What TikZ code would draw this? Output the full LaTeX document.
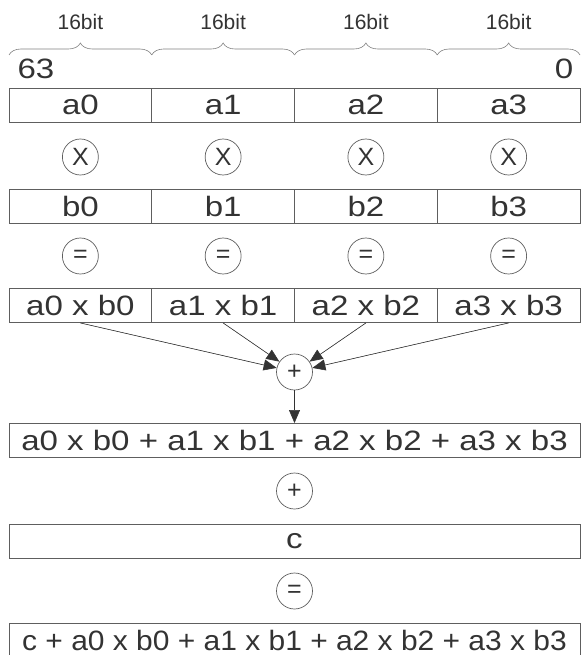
\documentclass[tikz,border=0pt]{standalone}
\usepackage{fontspec}
\setmainfont{Liberation Sans}
\usetikzlibrary{calc, positioning, arrows.meta, decorations.pathreplacing}
\definecolor{linegray}{HTML}{5E5E5E}
\definecolor{textgray}{HTML}{333333}
\newcommand{\wtxt}[1]{\scalebox{1.18}[1]{#1}}
\newcommand{\ntxt}[1]{\scalebox{1.07}[1]{#1}}

\begin{document}
\begin{tikzpicture}[x=1pt, y=-1pt, >={Triangle[length=13pt,width=11pt]},
    cell/.style={draw=linegray, line width=0.9pt, minimum width=142.75pt, minimum height=34pt,
        inner sep=0pt, text=textgray, font=\fontsize{28}{29}\selectfont},
    wide/.style={cell, minimum width=571pt},
    op/.style={circle, draw=linegray, line width=0.7pt, minimum size=36pt, inner sep=0pt,
        text=textgray, font=\fontsize{25}{26}\selectfont},
    bitlbl/.style={text=textgray, font=\fontsize{21}{22}\selectfont},
    bitbrace/.style={draw=gray, line width=0.6pt, decorate, decoration={brace, amplitude=12pt}},
    arr/.style={->, draw=textgray, fill=textgray, line width=0.6pt}]
    \useasboundingbox (0,0) rectangle (581,655);

    % four 16bit lanes
    \foreach \i in {0,...,3} {
        \pgfmathsetmacro{\cx}{9+142.75*(\i+0.5)}
        \node[bitlbl] (bit\i) at (\cx,22) {16bit};
        \draw[bitbrace] (\cx-71.375,55) -- (\cx+71.375,55);
        \node[cell] (a\i) at (\cx,105) {\wtxt{a\i}};
        \node[op] (mul\i) at (\cx,157) {X};
        \node[cell] (b\i) at (\cx,206.5) {\wtxt{b\i}};
        \node[op] (eq\i) at (\cx,256) {=};
        \node[cell] (p\i) at (\cx,305.5) {\wtxt{a\i{} x b\i}};
    }
    \node[bitlbl, font=\fontsize{28}{29}\selectfont] (msb) at (36,69) {\wtxt{63}};
    \node[bitlbl, font=\fontsize{28}{29}\selectfont] (lsb) at (564,69) {\wtxt{0}};

    % horizontal sum, then accumulate
    \node[op] (sum) at (294.5,372) {+};
    \foreach \i in {0,...,3}
        \draw[arr] (p\i.south) -- (sum);
    \node[wide] (tot) at (294.5,440.5) {\wtxt{a0 x b0 + a1 x b1 + a2 x b2 + a3 x b3}};
    \draw[arr] (sum) -- (tot);
    \node[op] (add) at (294.5,491) {+};
    \node[wide] (c) at (294.5,541.5) {\wtxt{c}};
    \node[op] (eqc) at (294.5,591) {=};
    \node[wide] (res) at (294.5,640.5) {\ntxt{c + a0 x b0 + a1 x b1 + a2 x b2 + a3 x b3}};
\end{tikzpicture}
\end{document}
